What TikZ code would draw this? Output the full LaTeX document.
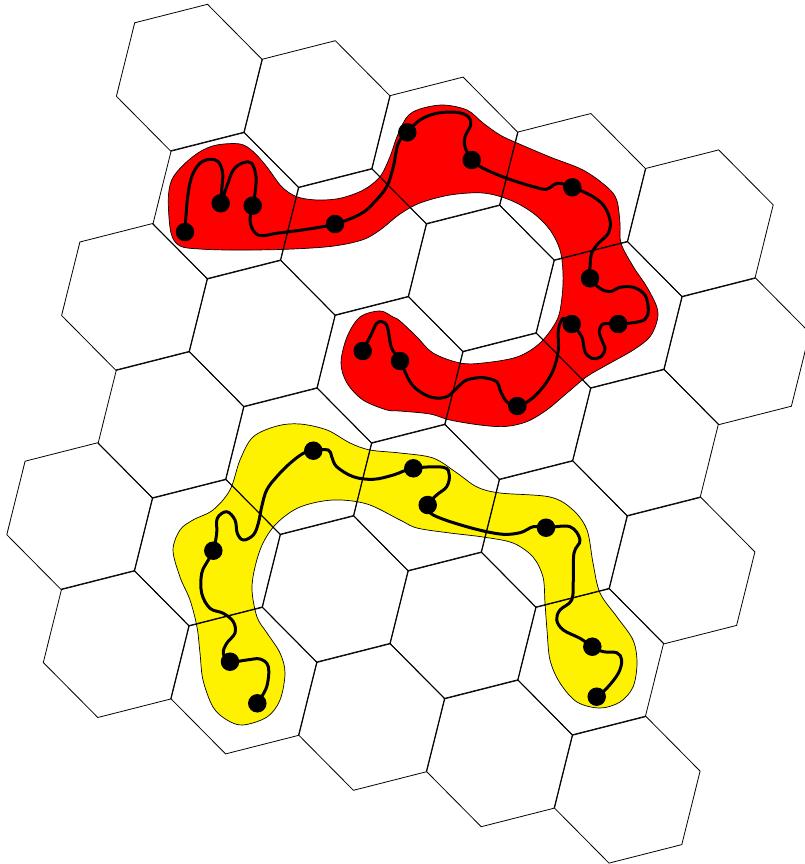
\documentclass[tikz,border=0pt]{standalone}
\usepackage{tikz}
\usetikzlibrary{calc}

\begin{document}
\begin{tikzpicture}[x=1pt, y=-1pt,
    cell/.style={draw=black, line width=0.8pt},
    blob/.style={draw=black, line width=0.7pt},
    chain/.style={line width=3pt, line cap=round, line join=round},
    bead/.style={circle, fill=black, inner sep=0pt, minimum size=18.5pt}
  ]
  \useasboundingbox (0,0) rectangle (805,864);

  % red region
  \filldraw[blob, fill=red] plot[smooth cycle, tension=0.55] coordinates {
    (168.3,200) (171.7,180) (183.3,165) (200,151.7) (216.7,145) (240,144) (253.3,151.7)
    (266.7,166.7) (281.7,186.7) (296.7,196.7) (316.7,200) (340,198.3) (363.3,190)
    (380,176.7) (390,156.7) (397,136.7) (407,117) (420,109) (443,105) (467,110)
    (483,123) (500,135) (517,143) (550,157) (583,170) (607,187) (616.7,200)
    (620,223.3) (621,243.3) (633.3,266.7) (646.7,286.7) (656.7,306.7) (657.3,320)
    (650,336.7) (633.3,350) (606.7,365) (586.7,376.7) (566.7,393.3) (546.7,410)
    (526.7,421.7) (505,426.5) (480,425) (450,420) (430,414) (400,411) (387,410)
    (363,400) (347,383) (341,363) (347,337) (360,317) (380,311) (393,317) (400,321)
    (417,337) (433,353) (460,363) (483,363) (517,357) (540,343) (557,320) (562,297)
    (563,273) (560,250) (550,230) (533,213) (510,200) (483,193) (450,195) (420,203)
    (400,214) (380,230) (362,240) (330,246.5) (280,249.5) (230,250) (200,249)
    (180,246) (171,233)
  };

  % yellow region
  \filldraw[blob, fill=yellow] plot[smooth cycle, tension=0.55] coordinates {
    (173,550) (180,530) (193,520) (213,510) (230,490) (240,460) (253,437) (277,426)
    (300,424) (327,430) (350,443) (370,450) (400,453) (433,458) (457,473) (477,487)
    (500,493) (550,497) (573,510) (587,530) (593,563) (600,593) (617,617) (633,640)
    (637,663) (633,687) (620,702) (600,708) (577,702) (560,683) (550,660) (547,630)
    (545,603) (543,577) (533,557) (513,543) (483,537) (450,533) (417,528) (400,520)
    (367,504) (333,500) (300,507) (277,523) (263,543) (255,567) (252,590) (257,617)
    (267,633) (280,653) (285,673) (280,700) (267,717) (243,725) (227,720) (213,707)
    (203,680) (200,653) (197,627) (190,600) (180,577)
  };

  % hexagonal lattice
  \foreach \i/\j in {0/0,1/0,2/0,3/0,4/0, 0/1,1/1,2/1,3/1,4/1,
                     -1/2,0/2,1/2,2/2,3/2, -1/3,0/3,1/3,2/3,3/3,
                     -2/4,-1/4,0/4,1/4,2/4, -2/5,-1/5,0/5,1/5,2/5} {
    \pgfmathsetmacro{\cx}{189.2+127.8*\i+36.5*\j}
    \pgfmathsetmacro{\cy}{77.8+36.4*\i+127.8*\j}
    \draw[cell] (\cx,\cy) +(72.8,-18.5) -- +(18.3,-73.5) -- +(-54.5,-55)
      -- +(-72.8,18.5) -- +(-18.3,73.5) -- +(54.5,55) -- cycle;
  }

  % beads
  \foreach \n/\x/\y in {r1/185/232, r2/220.7/203.3, r3/252.7/205.7, r4/335/224,
      r5/407.3/132.3, r6/471.7/160, r7/572.3/187.3, r8/590/278.3, r9/618.3/324,
      r10/571.7/324, r11/517.3/406, r12/400/361, r13/362.7/351,
      y1/257.3/703.3, y2/230/661.7, y3/213.3/550.7, y4/313.3/450.7, y5/413.3/468.3,
      y6/427.7/505, y7/546/527.7, y8/592.3/646.7, y9/596.7/696.7}
    \node[bead] (\n) at (\x,\y) {};

  % red chain
  \draw[chain] plot[smooth, tension=0.6] coordinates {
    (r1) (187.3,200) (191.7,176.7) (200,163.3) (210,159.3) (218.3,161.7) (222.7,173.3)
    (221.7,190) (r2) (226.7,186.7) (233.3,170) (243.3,162.7) (251.7,163.3) (256,176.7)
    (255,193.3) (r3) (250,220) (254,231.7) (261.7,235.7) (276.7,233.3) (306.7,229.3)
    (r4) (360,214.3) (373.3,203.3) (386.7,186.7) (393.3,166.7) (398.3,143.3)
    (r5) (420,120) (436.7,113.3) (456.7,112.3) (468.3,116.7) (470.7,125) (465,136.7)
    (465,146.7) (r6) (483.3,168.3) (506.7,178.3) (533.3,186.7) (546.7,189.3)
    (553.3,185) (560,183.3) (r7) (590,195) (603.3,205) (610,220) (608.3,233.3)
    (598.3,243.3) (591.7,253.3) (590,266.7) (r8) (600,288.3) (610,291.7) (620,287.3)
    (633.3,287.3) (645,295) (648.3,310) (645,319.3) (633.3,322.7) (r9) (603.3,324)
    (599.3,331.7) (601.7,340) (605,349.3) (600,357.3) (591.7,358.3) (585,351.7)
    (581.7,336.7) (r10) (563.3,318.3) (558.3,330) (558.3,350) (553.3,370)
    (543.3,386.7) (530,400) (r11) (506.7,401.7) (500,390) (496.7,381.7) (483.3,377.7)
    (466.7,380) (456.7,388.3) (446.7,396.7) (433.3,397.7) (420,391.7) (410,381.7)
    (r12) (391.7,348.3) (389.3,336.7) (386.7,325) (381.7,321.7) (376.7,323.3)
    (371.7,333.3) (366.7,343.3) (r13)
  };

  % yellow chain
  \draw[chain] plot[smooth, tension=0.6] coordinates {
    (y1) (266.7,686.7) (268.3,666.7) (260,659) (246.7,660) (y2) (223.3,653.3)
    (226.7,643.3) (235,633) (233.3,621.7) (223.3,613.3) (210,608.3) (201.7,593.3)
    (201.7,573.3) (208.3,560) (y3) (216.7,533.3) (217.3,518.3) (226.7,511.7)
    (235,520) (237.3,533.3) (243.3,540) (253.3,535) (258.3,523.3) (261.7,506.7)
    (266.7,490) (276.7,476.7) (290,463.3) (303.3,453.3) (y4) (328.3,450)
    (331.7,456.7) (336.7,466.7) (353.3,476.7) (373.3,479.3) (393.3,475) (y5)
    (443.3,467.3) (449.3,475) (446.7,486.7) (436.7,495) (y6) (433.3,515)
    (466.7,526.7) (500,534) (520,532.7) (533.3,526.7) (y7) (570,526.7) (580,540)
    (574,553) (573.3,580) (571.7,600) (560,610) (556.7,620) (563.3,630) (580,638.3)
    (y8) (603.3,651.7) (616.7,652.7) (621.7,660) (618.3,673.3) (606.7,688.3) (y9)
  };
\end{tikzpicture}
\end{document}
